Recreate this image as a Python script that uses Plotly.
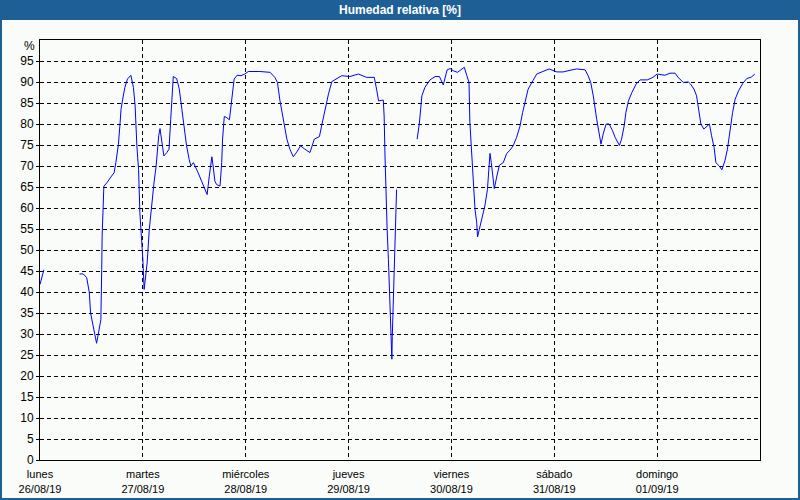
import plotly.graph_objects as go

# Hours since Monday 26/08/19 00:00, relative humidity [%]; None = gap in record
hours = [
    0.0, 0.9, None,
    9.2, 10.1, 10.9, 11.5, 11.8, 12.4, 12.8, 13.2, 13.6, 14.2, 14.4, 14.5, 14.9, 15.6,
    16.7, 17.3, 17.7, 18.3, 18.7, 18.9, 19.3, 19.8, 20.4, 21.2, 21.8, 22.2, 22.6, 23.0,
    23.3, 23.7, 24.0, 24.3, 24.7, 25.0, 25.5, 26.1, 26.6, 27.1, 27.4, 27.7, 28.0, 28.5,
    28.9, 29.6, 30.1, 30.5, 30.8, 31.1, 31.9, 32.5, 33.1, 33.6, 34.2, 34.8, 35.2, 35.8,
    36.2, 36.9, 37.7, 38.5, 39.0, 39.5, 40.1, 40.4, 40.8, 41.2, 42.0, 42.4, 42.6, 43.0,
    43.6, 44.2, 44.6, 45.0, 45.3, 46.0, 46.9, 47.8, 48.6, 51.3, 53.7, 54.8, 55.4, 56.0,
    56.8, 57.6, 58.3, 59.1, 59.9, 60.8, 61.8, 63.0, 64.0, 65.2, 65.7, 66.5, 67.3, 68.1,
    69.2, 70.4, 72.3, 74.3, 76.2, 78.0, 78.6, 79.0, 80.1, 80.3, 80.5, 80.7, 81.0, 81.3,
    81.5, 81.7, 81.9, 82.1, 82.2, 82.4, 82.6, 82.8, 83.1, 83.2, None,
    88.0, 88.5, 89.1, 89.8, 91.0, 92.2, 93.2, 94.1, 95.0, 95.7, 96.4, 97.4, 98.2, 99.0,
    99.6, 100.1, 100.3, 100.7, 101.1, 101.5, 101.9, 102.1, 102.5, 103.1, 103.8, 104.4,
    104.8, 105.0, 105.3, 105.6, 106.0, 106.6, 107.2, 108.1, 108.9, 109.7, 110.4, 111.2,
    112.0, 112.6, 113.2, 113.9, 115.0, 115.9, 117.1, 118.8, 120.6, 122.1, 123.7, 125.2,
    127.2, 127.9, 128.5, 129.1, 129.9, 130.5, 130.9, 131.4, 132.1, 132.8, 133.6, 134.2,
    135.2, 135.7, 136.3, 136.7, 137.3, 138.1, 139.1, 140.0, 141.7, 143.0, 144.0, 145.8,
    147.0, 148.2, 148.9, 150.1, 151.3, 151.8, 152.6, 153.2, 153.6, 154.2, 154.9, 155.6,
    156.2, 156.7, 157.3, 157.7, 158.5, 159.1, 159.8, 160.4, 161.0, 161.6, 162.2, 163.0,
    164.0, 164.9, 166.0, 166.8,
]
humidity = [
    41.8, 45.3, None,
    44.3, 44.3, 43.4, 39.9, 35.0, 31.8, 30.0, 27.8, 30.0, 33.4, 45.3, 53.3, 65.2, 66.0,
    67.6, 68.4, 70.8, 75.2, 80.4, 83.5, 85.9, 88.7, 90.7, 91.6, 88.7, 84.3, 74.8, 69.2,
    58.9, 53.3, 47.7, 40.6, 43.7, 46.9, 54.9, 61.3, 66.0, 70.0, 74.0, 77.2, 78.9, 75.6,
    72.4, 73.2, 74.0, 81.1, 86.7, 91.3, 90.8, 88.3, 83.5, 79.5, 74.8, 71.6, 70.0, 70.8,
    70.0, 68.4, 66.4, 64.4, 63.2, 67.6, 72.2, 70.0, 66.4, 65.6, 65.2, 70.8, 76.4, 81.8,
    81.5, 81.0, 85.1, 89.1, 90.7, 91.6, 91.5, 91.9, 92.5, 92.5, 92.3, 91.1, 89.9, 85.5,
    80.4, 76.4, 74.0, 72.2, 73.3, 74.8, 74.0, 73.2, 76.4, 77.0, 79.5, 83.5, 87.1, 90.1,
    90.8, 91.5, 91.3, 91.9, 91.1, 91.1, 87.9, 85.5, 85.7, 81.9, 72.4, 64.0, 54.9, 47.7,
    40.6, 34.2, 27.8, 24.0, 29.4, 36.6, 44.6, 52.5, 60.5, 64.4, None,
    76.4, 80.0, 86.7, 88.7, 90.5, 91.3, 91.3, 89.3, 92.9, 93.2, 92.7, 92.3, 92.9, 93.5,
    91.5, 89.9, 80.4, 73.2, 65.2, 59.7, 56.5, 53.1, 54.9, 57.3, 60.5, 64.4,
    70.0, 73.0, 70.8, 67.6, 64.6, 67.6, 70.2, 70.8, 73.0, 73.8, 74.8, 76.8,
    79.5, 82.7, 85.5, 88.3, 90.3, 91.9, 92.4, 93.1, 92.4, 92.4, 92.8, 93.1,
    92.9, 91.5, 89.9, 86.7, 81.1, 78.0, 75.2, 77.6, 80.0, 80.0, 78.4, 76.8,
    74.9, 76.4, 79.5, 82.7, 85.5, 87.5, 89.5, 90.5, 90.5, 91.1, 91.9, 91.6,
    92.1, 92.1, 91.1, 89.9, 90.0, 89.5, 88.3, 86.7, 83.5, 80.0, 78.8, 79.5,
    80.0, 77.2, 74.4, 70.8, 70.0, 69.1, 71.2, 74.0, 78.8, 82.7, 85.9, 87.9,
    89.7, 90.8, 91.2, 91.9,
]

day_hours = [0, 24, 48, 72, 96, 120, 144]
day_names = ["lunes", "martes", "miércoles", "jueves", "viernes", "sábado", "domingo"]
day_dates = ["26/08/19", "27/08/19", "28/08/19", "29/08/19", "30/08/19", "31/08/19", "01/09/19"]
y_ticks = list(range(0, 100, 5))

title_text = "Humedad relativa [%]"
bar_color = "#1e5f96"
bg = "#fafcfa"

fig = go.Figure()
fig.add_trace(go.Scatter(
    x=hours, y=humidity, mode="lines",
    line=dict(color="#0000ff", width=1),
    connectgaps=False, hoverinfo="skip", showlegend=False,
))

W, H = 800, 500
L, R, T, B = 40, 40, 40, 40
pw, ph = W - L - R, H - T - B


def px_x(p):
    return (p - L) / pw


def px_y(p):
    return (H - B - p) / ph


fam = "Liberation Sans, Arial, sans-serif"
grid_dash = "4px,3px"

fig.update_layout(
    width=W, height=H,
    margin=dict(l=L, r=R, t=T, b=B, autoexpand=False),
    paper_bgcolor=bg, plot_bgcolor=bg,
    font=dict(family=fam, size=11, color="#000000"),
    xaxis=dict(
        range=[0, 168], tickmode="array", tickvals=day_hours,
        ticktext=[f"{n}<br>{d}" for n, d in zip(day_names, day_dates)],
        showgrid=True, gridcolor="#000000", gridwidth=1, griddash=grid_dash,
        showline=True, linecolor="#000000", linewidth=1, mirror=True,
        ticks="outside", ticklen=4, tickcolor="rgba(0,0,0,0)", zeroline=False,
        tickfont=dict(family=fam, size=11, color="#000000"),
        automargin=False, fixedrange=True,
    ),
    yaxis=dict(
        range=[0, 100], tickmode="array", tickvals=y_ticks,
        ticktext=[str(v) for v in y_ticks],
        showgrid=True, gridcolor="#000000", gridwidth=1, griddash=grid_dash,
        showline=True, linecolor="#000000", linewidth=1, mirror=True,
        ticks="outside", ticklen=3, tickcolor="#000000", zeroline=False,
        tickfont=dict(family=fam, size=12, color="#000000"),
        automargin=False, fixedrange=True,
    ),
    shapes=[
        dict(type="rect", xref="paper", yref="paper",
             x0=px_x(0), x1=px_x(W), y0=px_y(20), y1=px_y(0),
             fillcolor=bar_color, line=dict(width=0), layer="above"),
        dict(type="rect", xref="paper", yref="paper",
             x0=px_x(1), x1=px_x(W - 1), y0=px_y(H - 1), y1=px_y(1),
             fillcolor="rgba(0,0,0,0)", line=dict(color=bar_color, width=2), layer="above"),
    ],
    annotations=[
        dict(text=f"<b>{title_text}</b>", xref="paper", yref="paper",
             x=px_x(400), y=px_y(10), showarrow=False, xanchor="center", yanchor="middle",
             font=dict(family=fam, size=12, color="#ffffff")),
        dict(text="%", xref="paper", yref="paper",
             x=px_x(37), y=px_y(46), showarrow=False, xanchor="right", yanchor="middle",
             font=dict(family=fam, size=12, color="#000000")),
    ],
)

fig.write_html(
    "out.html",
    config={"displayModeBar": False, "staticPlot": True},
    post_script="document.body.style.margin='0';document.body.style.padding='0';"
                "document.body.style.overflow='hidden';",
)
